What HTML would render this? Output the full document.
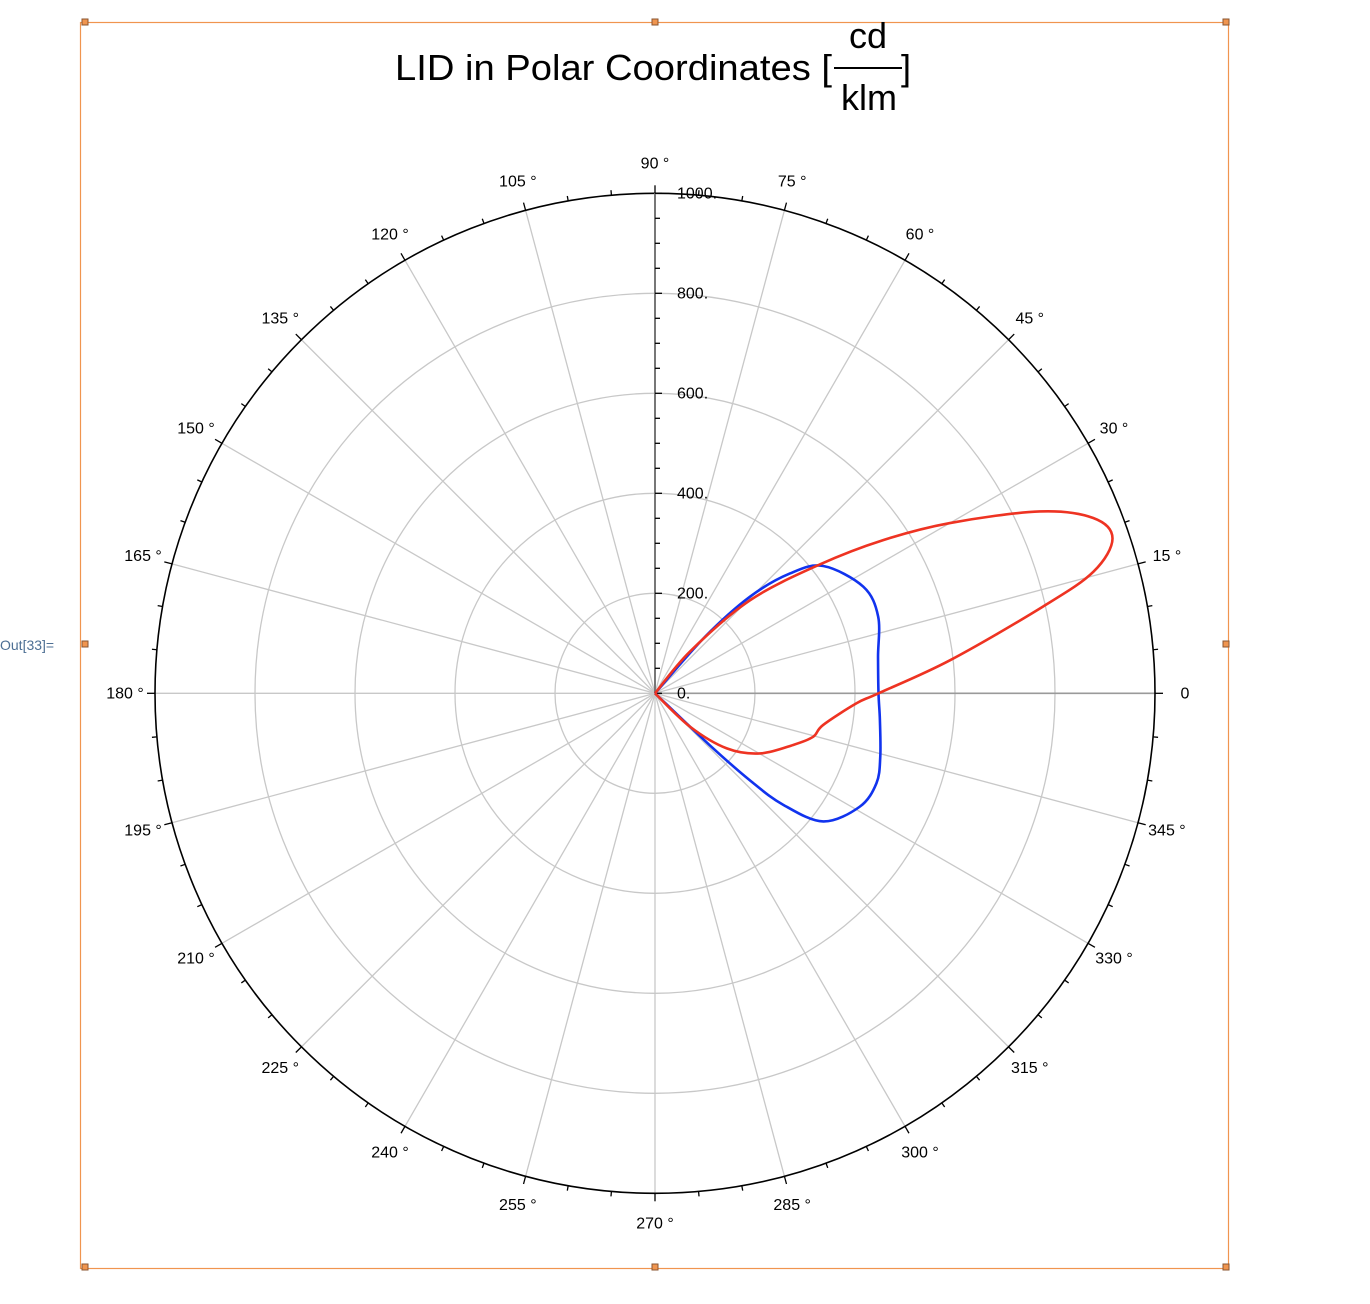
<!DOCTYPE html>
<html><head><meta charset="utf-8"><style>
html,body{margin:0;padding:0;background:#fff;}
svg{display:block;font-family:"Liberation Sans",sans-serif;}
</style></head><body>
<svg id="chart" width="1370" height="1304" viewBox="0 0 1370 1304">
  <rect x="80.5" y="22.5" width="1148" height="1246" fill="none" stroke="#f0954f" stroke-width="1.2"/>
  <g fill="#f0954f" stroke="#8a5530" stroke-width="1">
    <rect x="82" y="19" width="6" height="6"/><rect x="652" y="19" width="6" height="6"/><rect x="1223" y="19" width="6" height="6"/>
    <rect x="82" y="641" width="6" height="6"/><rect x="1223" y="641" width="6" height="6"/>
    <rect x="82" y="1264" width="6" height="6"/><rect x="652" y="1264" width="6" height="6"/><rect x="1223" y="1264" width="6" height="6"/>
  </g>
  <text x="0" y="650" font-size="14" fill="#4d6f94">Out[33]=</text>
  <g font-size="36" fill="#000">
    <text x="395" y="80" textLength="437" lengthAdjust="spacingAndGlyphs">LID in Polar Coordinates [</text>
    <text x="868" y="48" text-anchor="middle">cd</text>
    <line x1="834" y1="68" x2="902" y2="68" stroke="#000" stroke-width="2"/>
    <text x="869" y="110" text-anchor="middle">klm</text>
    <text x="901" y="80">]</text>
  </g>
  <g id="grid"></g>
  <g id="axes"></g>
  <g id="series"></g>
</svg>
<script>
// Data (angle in degrees, intensity cd/klm)
const redAngles = [-47,-43.6,-37.5,-29.8,-20.5,-15.4,-10.7,-2.8,0,6.4,12.6,15.5,18.7,21.8,25.3,30,33.9,38,44.4,50,55];
const redValues = [0,97,181,242,295,328,342,404,447,594,795,910,966,944,851,681,549,419,266,110,0];
const blueAngles = [-45,-43.5,-42.5,-41,-37.3,-29,-22.1,-15.7,-6.8,0,9.3,19,27.1,37.1,41.6,45.5,48.5,52];
const blueValues = [0,150,260,340,423,468,478,468,453,447,452,472,468,422,361,271,150,0];
const radialTicks = [0,200,400,600,800,1000];
const radialTickLabels = ["0.","200.","400.","600.","800.","1000."];
const angleTicks = [0,15,30,45,60,75,90,105,120,135,150,165,180,195,210,225,240,255,270,285,300,315,330,345];

const CX=655, CY=693.3, R=500, RMAX=1000;
const NS="http://www.w3.org/2000/svg";
function rScale(v){return v/RMAX*R;}
function px(a,v){return CX+rScale(v)*Math.cos(a*Math.PI/180);}
function py(a,v){return CY-rScale(v)*Math.sin(a*Math.PI/180);}
function mk(tag,attrs,parent){const e=document.createElementNS(NS,tag);for(const k in attrs)e.setAttribute(k,attrs[k]);parent.appendChild(e);return e;}
const grid=document.getElementById('grid'), axes=document.getElementById('axes'), series=document.getElementById('series');

radialTicks.forEach(function(v){
  if(v===0||v===RMAX) return;
  const c=mk('circle',{cx:CX,cy:CY,r:rScale(v),fill:'none',stroke:'#c8c8c8','stroke-width':1.3},grid);
  
  
});
angleTicks.forEach(function(a){
  const dark = (a===0);
  const l=mk('line',{x1:CX,y1:CY,x2:px(a,RMAX),y2:py(a,RMAX),stroke:dark?'#9a9a9a':'#c8c8c8','stroke-width':dark?1.6:1.3},grid);
  
  
});
const oc=mk('circle',{cx:CX,cy:CY,r:R,fill:'none',stroke:'#000','stroke-width':1.6},axes);


for(let a=0;a<360;a+=5){
  const major=(a%15===0);
  const t=mk('line',{x1:px(a,RMAX),y1:py(a,RMAX),x2:px(a,RMAX+(major?16:10)),y2:py(a,RMAX+(major?16:10)),stroke:'#000','stroke-width':1.3},axes);
  
  
}
angleTicks.forEach(function(a){
  const rr=RMAX*1.06;
  const t=mk('text',{x:px(a,rr),y:py(a,rr)+5,'font-size':16,'text-anchor':'middle',fill:'#000'},axes);
  t.textContent = a===0 ? '0' : a+' °';
  
  
});
const ra=mk('line',{x1:CX,y1:CY,x2:CX,y2:py(90,RMAX),stroke:'#777','stroke-width':2},axes);


for(let v=0;v<=RMAX;v+=50){
  const major=(v%200===0);
  const t=mk('line',{x1:CX,y1:py(90,v),x2:CX+(major?7:5),y2:py(90,v),stroke:'#000','stroke-width':1.3},axes);
  
  
}
radialTicks.forEach(function(v,i){
  const t=mk('text',{x:CX+22,y:py(90,v)+5,'font-size':16,fill:'#000'},axes);
  t.textContent=radialTickLabels[i];
  
  
});
function pathFor(angs,vals){
  const p=angs.map(function(a,i){return [px(a,vals[i]),py(a,vals[i])];});
  let d='M'+p[0][0]+','+p[0][1];
  for(let i=0;i<p.length-1;i++){
    const p0=p[Math.max(0,i-1)],p1=p[i],p2=p[i+1],p3=p[Math.min(p.length-1,i+2)];
    const c1=[p1[0]+(p2[0]-p0[0])/6,p1[1]+(p2[1]-p0[1])/6];
    const c2=[p2[0]-(p3[0]-p1[0])/6,p2[1]-(p3[1]-p1[1])/6];
    d+=' C'+c1[0]+','+c1[1]+' '+c2[0]+','+c2[1]+' '+p2[0]+','+p2[1];
  }
  return d;
}
const blue=mk('path',{d:pathFor(blueAngles,blueValues),fill:'none',stroke:'#1133ee','stroke-width':2.6,'stroke-linejoin':'round'},series);


const red=mk('path',{d:pathFor(redAngles,redValues),fill:'none',stroke:'#ee3322','stroke-width':2.6,'stroke-linejoin':'round'},series);


</script>
</body></html>
